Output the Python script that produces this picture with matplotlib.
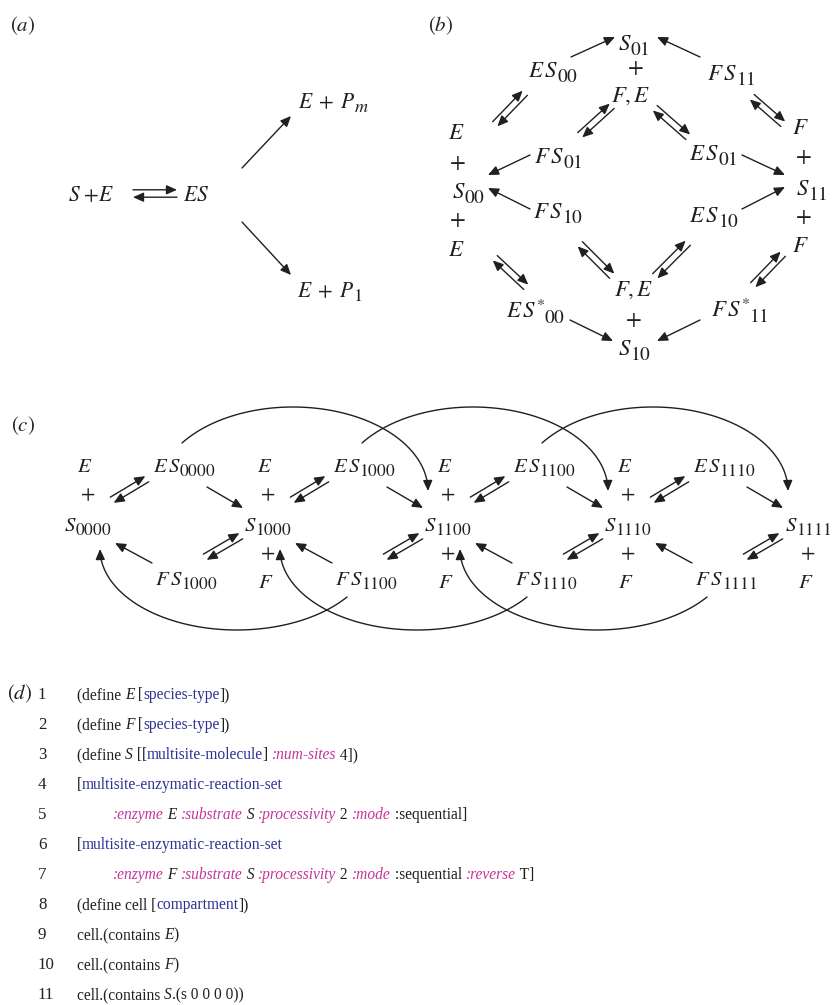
import matplotlib
matplotlib.use('Agg')
import matplotlib.pyplot as plt
import numpy as np
from matplotlib.path import Path
from matplotlib.patches import FancyArrowPatch

plt.rcParams['mathtext.fontset'] = 'stix'
plt.rcParams['font.family'] = ['Liberation Serif', 'DejaVu Serif']

W, H = 835, 1005
INK = '#231f20'
BLUE = '#2e3192'
MAGENTA = '#c4359b'
HEAD = '-|>,head_length=0.45,head_width=0.2'

# ---- panel (a): Michaelis-Menten with branching products
# (main part, subscript)
a_labels = [(r'$S\ {+}E$', ''), (r'$ES$', ''), (r'$E\;+\;P$', 'm'), (r'$E\;+\;P$', '1')]
a_pos = [(68, 201), (183, 201), (298, 108), (297, 297)]
a_arrows = [((242, 168), (291, 116)), ((242, 222), (291, 275))]
a_pair = ((133, 193.5), (177, 193.5))

# ---- panel (b): two-site, two-enzyme network
b_labels = [('$S$', '01'), ('$+$', ''), (r'$F,E$', ''), (r'$E\,S$', '00'), (r'$F\,S$', '11'),
            ('$E$', ''), ('$+$', ''), ('$S$', '00'), ('$+$', ''), ('$E$', ''),
            (r'$F\,S$', '01'), (r'$E\,S$', '01'),
            ('$F$', ''), ('$+$', ''), ('$S$', '11'), ('$+$', ''), ('$F$', ''),
            (r'$F\,S$', '10'), (r'$E\,S$', '10'),
            (r'$F,E$', ''), ('$+$', ''), ('$S$', '10'),
            (r'$E\,S^{*}$', '00'), (r'$F\,S^{*}$', '11')]
b_pos = [(634, 50), (635, 74), (631, 102), (553, 77), (731, 80),
         (456, 139), (457, 169), (468, 198), (457, 226), (456, 256),
         (558, 163), (713, 160),
         (800, 134), (803, 163), (812, 195), (803, 223), (800, 252),
         (558, 218), (714, 222),
         (634, 296), (633, 326), (634, 355), (535, 318), (740, 317)]
b_arrows = [((571, 57), (615, 37)), ((700, 57), (657, 37)),
            ((530, 155), (488, 175)), ((530, 209), (488, 188)),
            ((742, 155), (785, 175)), ((742, 209), (785, 187)),
            ((570, 320), (613, 341)), ((700, 320), (657, 341))]
b_pairs = [((495, 124), (525, 93)), ((580, 135), (612, 106)),
           ((655, 108), (688, 137)), ((752, 97), (783, 124)),
           ((495, 258), (526, 287)), ((580, 244), (612, 276)),
           ((655, 276), (688, 243)), ((753, 285), (783, 254))]

# ---- panel (c): four-site sequential chain with processivity 2
c_states = ['0000', '1000', '1100', '1110', '1111']
c_es = ['0000', '1000', '1100', '1110']
c_fs = ['1000', '1100', '1110', '1111']

# ---- panel (d): model source
code_lines = [
    [('(define ', 'k'), ('E', 'i'), (' [', 'k'), ('species-type', 'b'), ('])', 'k')],
    [('(define ', 'k'), ('F', 'i'), (' [', 'k'), ('species-type', 'b'), ('])', 'k')],
    [('(define ', 'k'), ('S', 'i'), (' [[', 'k'), ('multisite-molecule', 'b'),
     ('] ', 'k'), (':num-sites', 'm'), (' 4])', 'k')],
    [('[', 'k'), ('multisite-enzymatic-reaction-set', 'b')],
    [(':enzyme', 'm'), (' E ', 'i'), (':substrate', 'm'), (' S ', 'i'),
     (':processivity', 'm'), (' 2 ', 'k'), (':mode', 'm'), (' :sequential]', 'k')],
    [('[', 'k'), ('multisite-enzymatic-reaction-set', 'b')],
    [(':enzyme', 'm'), (' F ', 'i'), (':substrate', 'm'), (' S ', 'i'),
     (':processivity', 'm'), (' 2 ', 'k'), (':mode', 'm'), (' :sequential ', 'k'),
     (':reverse', 'm'), (' T]', 'k')],
    [('(define cell [', 'k'), ('compartment', 'b'), ('])', 'k')],
    [('cell.(contains ', 'k'), ('E', 'i'), (')', 'k')],
    [('cell.(contains ', 'k'), ('F', 'i'), (')', 'k')],
    [('cell.(contains ', 'k'), ('S', 'i'), ('.(s 0 0 0 0))', 'k')],
]
code_indent = [0, 0, 0, 0, 1, 0, 1, 0, 0, 0, 0]
run_style = {'k': (INK, 'normal'), 'i': (INK, 'italic'),
             'b': (BLUE, 'normal'), 'm': (MAGENTA, 'italic')}

fig = plt.figure(figsize=(W / 100, H / 100), dpi=100)
ax = fig.add_axes([0, 0, 1, 1])
ax.set_xlim(0, W)
ax.set_ylim(H, 0)
ax.axis('off')
renderer = fig.canvas.get_renderer()


def species(x, y, main, sub, size, ha='center', shrink=0.84, drop=0.2):
    # main symbol plus a lowered subscript, laid out side by side
    t1 = ax.text(x, y, main, fontsize=size, ha='left', va='baseline', color=INK)
    w1 = t1.get_window_extent(renderer).width
    if not sub:
        if ha == 'center':
            t1.set_x(x - w1 / 2)
        return
    px = size * 100 / 72
    t2 = ax.text(x, y + drop * px, '$%s$' % sub, fontsize=size * shrink,
                 ha='left', va='baseline', color=INK)
    w2 = t2.get_window_extent(renderer).width
    gap = -0.07 * px
    x0 = x - (w1 + gap + w2) / 2 if ha == 'center' else x
    t1.set_x(x0)
    t2.set_x(x0 + w1 + gap)


def arrow(p, q, ms=14):
    ax.annotate('', xy=q, xytext=p,
                arrowprops=dict(arrowstyle=HEAD, mutation_scale=ms, lw=1,
                                color=INK, shrinkA=0, shrinkB=0))


def pair(a, b, gap=3.3):
    # forward arrow on the left of a->b, reverse one on the right
    a = np.asarray(a, float)
    b = np.asarray(b, float)
    d = (b - a) / np.hypot(*(b - a))
    off = np.array([d[1], -d[0]]) * gap
    arrow(a + off, b + off)
    arrow(b - off, a - off)


def arc(start, end, extreme, top=True):
    # half-ellipse ending with a vertical tangent at `end`
    sx, sy = start
    ex, ey = end
    b = abs(extreme - ey)
    s = abs(sy - ey) / b
    c = np.sqrt(1 - s ** 2)
    if top:
        a = (ex - sx) / (1 + c)
        t = np.linspace(np.pi - np.arcsin(s), 0, 80)
        xs = ex - a + a * np.cos(t)
        ys = ey - b * np.sin(t)
    else:
        a = (sx - ex) / (1 + c)
        t = np.linspace(np.arcsin(s), np.pi, 80)
        xs = ex + a + a * np.cos(t)
        ys = ey + b * np.sin(t)
    ax.add_patch(FancyArrowPatch(path=Path(np.column_stack([xs, ys])),
                                 arrowstyle=HEAD, mutation_scale=14, lw=1,
                                 color=INK))


# panel tags
for tag, x, y in [('a', 10, 31), ('b', 428, 31), ('c', 11, 431), ('d', 7, 699)]:
    ax.text(x, y, r'$(%s)$' % tag, fontsize=15, ha='left', va='baseline', color=INK)

# (a)
for (m, s), (x, y) in zip(a_labels, a_pos):
    species(x, y, m, s, 15.5, ha='left')
for p, q in a_arrows:
    arrow(p, q)
pair(*a_pair, gap=3.7)

# (b)
for (m, s), (x, y) in zip(b_labels, b_pos):
    species(x, y, m, s, 16.5)
for p, q in b_arrows:
    arrow(p, q)
for p, q in b_pairs:
    pair(p, q)

# (c)
C_SIZE = 15
cx = [88 + 180 * i for i in range(len(c_states))]
for i, st in enumerate(c_states):
    x = cx[i]
    species(x, 531, '$S$', st, C_SIZE)
    if i < len(c_states) - 1:
        species(x - 3, 472, '$E$', '', C_SIZE)
        species(x, 500, '$+$', '', C_SIZE)
    if i > 0:
        species(x, 559, '$+$', '', C_SIZE)
        species(x - 2, 588, '$F$', '', C_SIZE)
for i, st in enumerate(c_es):
    x = cx[i]
    species(x + 96, 472, r'$E\,S$', st, C_SIZE)
    pair((x + 24, 500), (x + 59, 479))
    arrow((x + 119, 487), (x + 155, 508))
for i, st in enumerate(c_fs):
    x = cx[i]
    species(x + 98, 585, r'$F\,S$', st, C_SIZE)
    arrow((x + 64, 563), (x + 27, 543))
    pair((cx[i + 1] - 63, 557), (cx[i + 1] - 27, 536))
for i in range(len(c_states) - 2):
    arc((cx[i] + 94, 443), (cx[i + 2] - 20, 491), 407, top=True)
    arc((cx[i + 1] + 79, 597), (cx[i] + 12, 549), 630, top=False)

# (d)
CODE_SIZE = 11.2


def advance(s, style):
    # advance width: measure between two bars so bearings are kept
    def w(txt):
        t = ax.text(0, 0, txt, fontsize=CODE_SIZE, fontstyle=style)
        v = t.get_window_extent(renderer).width
        t.remove()
        return v
    return w('|' + s + '|') - w('||')


def draw_runs(x, y, runs):
    for txt, kind in runs:
        color, style = run_style[kind]
        ax.text(x, y, txt, fontsize=CODE_SIZE, fontstyle=style,
                color=color, va='baseline', ha='left')
        x += advance(txt, style)


for n, (runs, ind) in enumerate(zip(code_lines, code_indent)):
    y = 699 + 30 * n
    ax.text(38, y, str(n + 1), fontsize=CODE_SIZE + 1, color=INK,
            va='baseline', ha='left')
    draw_runs(77 + 36 * ind, y, runs)

fig.savefig('out.png', dpi=100)
